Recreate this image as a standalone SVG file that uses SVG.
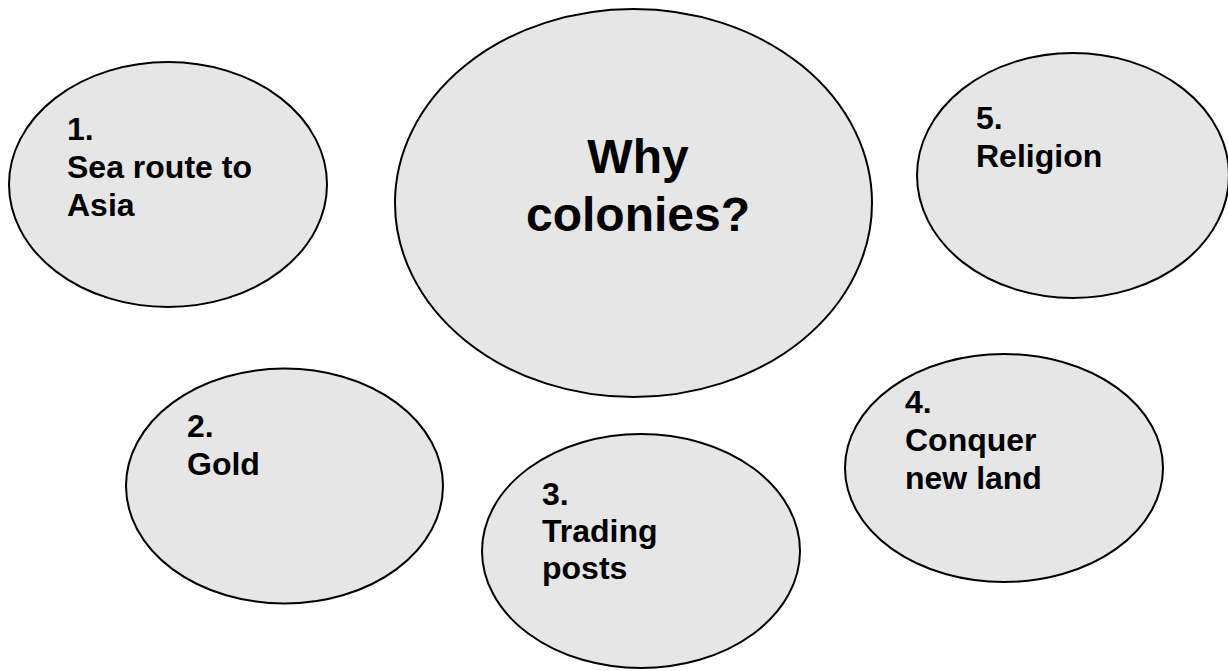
<svg xmlns="http://www.w3.org/2000/svg" width="1228" height="671" viewBox="0 0 1228 671">
<style>
.bubble{fill:#e6e6e6;stroke:#000;stroke-width:2}
.t{font-family:"Liberation Sans",Arial,sans-serif;font-weight:bold;font-size:32px;fill:#000}
.big{font-size:48px;text-anchor:middle}
</style>
<rect width="1228" height="671" fill="#fff"/>
<g id="connectors"></g>
<g id="center">
<ellipse class="bubble" cx="633.5" cy="203" rx="238.5" ry="194"/>
<text class="t big" x="638" y="173">Why</text>
<text class="t big" x="638" y="231">colonies?</text>
</g>
<g id="n1">
<ellipse class="bubble" cx="168" cy="184.5" rx="159" ry="122.5"/>
<text class="t" x="67" y="140">1.</text>
<text class="t" x="67" y="178">Sea route to</text>
<text class="t" x="67" y="216">Asia</text>
</g>
<g id="n2">
<ellipse class="bubble" cx="284.5" cy="486" rx="158.5" ry="117.5"/>
<text class="t" x="187" y="437">2.</text>
<text class="t" x="187" y="475">Gold</text>
</g>
<g id="n3">
<ellipse class="bubble" cx="641" cy="551" rx="159" ry="117"/>
<text class="t" x="542" y="505">3.</text>
<text class="t" x="542" y="542">Trading</text>
<text class="t" x="542" y="579">posts</text>
</g>
<g id="n4">
<ellipse class="bubble" cx="1004" cy="468" rx="159" ry="114"/>
<text class="t" x="905" y="413">4.</text>
<text class="t" x="905" y="451">Conquer</text>
<text class="t" x="905" y="489">new land</text>
</g>
<g id="n5">
<ellipse class="bubble" cx="1073" cy="175.5" rx="156" ry="122.5"/>
<text class="t" x="976" y="129">5.</text>
<text class="t" x="976" y="167">Religion</text>
</g>
</svg>
